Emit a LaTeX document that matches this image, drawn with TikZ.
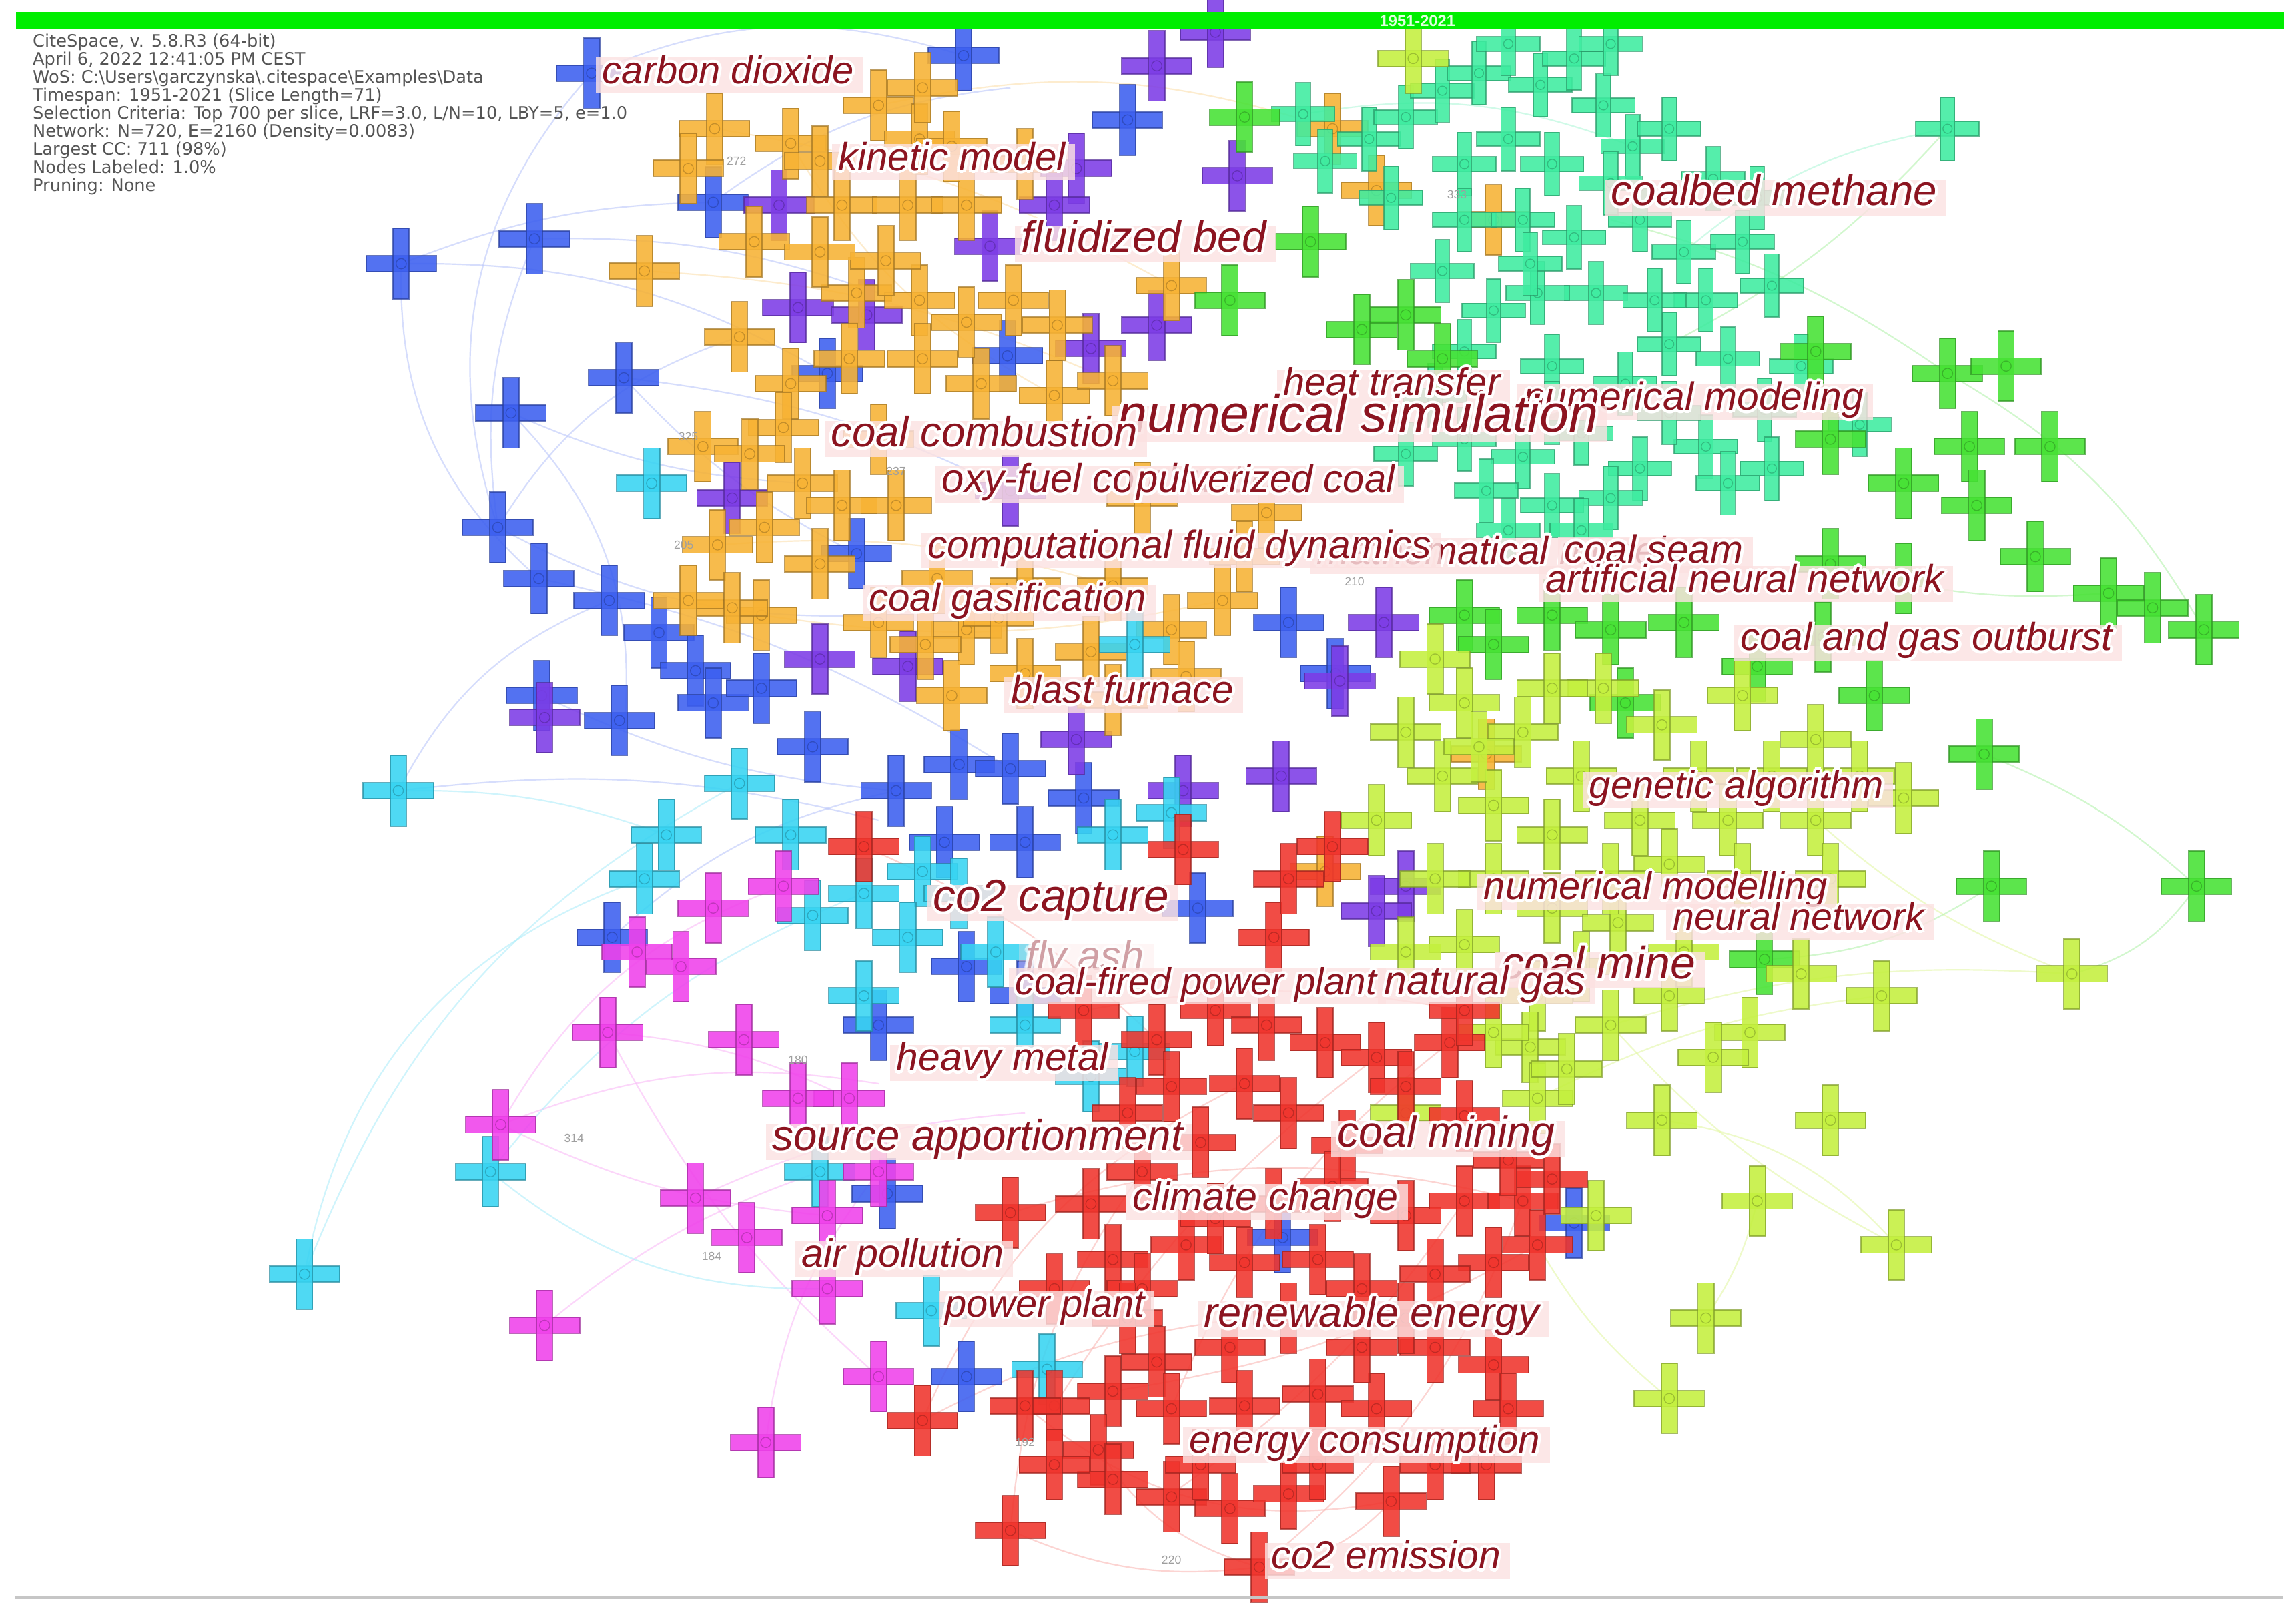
\documentclass[tikz,border=0pt]{standalone}
\usepackage{fontspec}
\usetikzlibrary{calc}
\newfontfamily\labfont{Liberation Sans}
\newfontfamily\hdrfont{DejaVu Sans}
\definecolor{cB}{RGB}{60,95,240}
\definecolor{cP}{RGB}{125,60,230}
\definecolor{cO}{RGB}{247,178,52}
\definecolor{cC}{RGB}{55,212,242}
\definecolor{cM}{RGB}{240,65,235}
\definecolor{cR}{RGB}{240,52,44}
\definecolor{cY}{RGB}{196,240,62}
\definecolor{cG}{RGB}{70,226,52}
\definecolor{cT}{RGB}{62,236,160}
\definecolor{topgreen}{RGB}{0,238,0}
\definecolor{labred}{RGB}{140,20,32}
\definecolor{labpink}{RGB}{252,226,226}
\definecolor{hdrgray}{RGB}{85,85,85}
\newcommand\pl[4][1]{\begin{scope}[shift={(#2,#3)},scale=#1]
 \filldraw[fill=#4,draw=#4!65!black,fill opacity=.88,draw opacity=.7,line width=.4pt] (-24,-5.5) rectangle (24,5.5);
 \filldraw[fill=#4,draw=#4!65!black,fill opacity=.88,draw opacity=.7,line width=.4pt] (-5.5,-24) rectangle (5.5,24);
 \draw[#4!55!black,opacity=.45,line width=.3pt] (0,0) circle (3.5);
\end{scope}}
\newcommand\lab[5][1]{%
 \begin{scope}[opacity=#1]
 \node[ltx,text opacity=0,font=\labfont\itshape\fontsize{#4pt}{#4pt}\selectfont] (L) at (#2,#3) {#5};
 \fill[labpink,opacity=.82*#1] ([xshift=-2pt,yshift=-1.2pt]L.south west) rectangle ([xshift=3pt,yshift=1.5pt]L.north east);
 \foreach \a in {0,30,...,330}{\node[ltx,text=white,font=\labfont\itshape\fontsize{#4pt}{#4pt}\selectfont] (H) at ($(#2,#3)+(\a:1pt)$) {#5};}
 \node[ltx,text=labred,font=\labfont\itshape\fontsize{#4pt}{#4pt}\selectfont] (T) at (#2,#3) {#5};
 \end{scope}}
\tikzset{
 ltx/.style={anchor=west,inner sep=0pt,text height=.72em,text depth=.2em},
 num/.style={text=gray!75,font=\labfont\fontsize{4pt}{4pt}\selectfont,inner sep=0pt},
 eB/.style={draw=cB!35,line width=.5pt,opacity=.6},
 eM/.style={draw=cM!35,line width=.5pt,opacity=.6},
 eC/.style={draw=cC!40,line width=.5pt,opacity=.6},
 eR/.style={draw=cR!35,line width=.5pt,opacity=.6},
 eY/.style={draw=cY!45,line width=.5pt,opacity=.6},
 eG/.style={draw=cG!40,line width=.5pt,opacity=.6},
 eO/.style={draw=cO!40,line width=.5pt,opacity=.6},
 eT/.style={draw=cT!40,line width=.5pt,opacity=.6},
}
\begin{document}
\begin{tikzpicture}[x=0.5pt,y=-0.5pt]
\useasboundingbox (0,0) rectangle (1568,1104);
\fill[white] (0,0) rectangle (1568,1104);
% edges
\draw[eB] (274,180) to[bend left=15] (565,255);
\draw[eB] (274,180) to[bend left=10] (487,138);
\draw[eB] (365,163) to[bend left=10] (600,200);
\draw[eB] (349,282) to[bend right=10] (548,330);
\draw[eB] (340,360) to[bend left=20] (505,230);
\draw[eB] (426,258) to[bend left=10] (700,340);
\draw[eB] (404,50) to[bend right=30] (340,360);
\draw[eB] (487,138) to[bend left=15] (690,60);
\draw[eB] (370,475) to[bend right=10] (612,540);
\draw[eB] (416,410) to[bend right=20] (272,540);
\draw[eB] (272,540) to[bend left=10] (600,560);
\draw[eB] (404,50) to[bend left=20] (658,38);
\draw[eB] (349,282) to[bend left=25] (426,500);
\draw[eB] (365,163) to[bend right=15] (340,360);
\draw[eB] (426,258) to[bend right=10] (585,378);
\draw[eB] (340,360) to[bend right=15] (600,420);
\draw[eB] (368,395) to[bend left=10] (690,525);
\draw[eB] (274,180) to[bend right=25] (368,395);
\draw[eB] (418,640) to[bend left=15] (612,540);
\draw[eO] (440,185) to[bend left=10] (760,260);
\draw[eO] (488,88) to[bend left=10] (800,195);
\draw[eO] (520,420) to[bend right=10] (835,410);
\draw[eO] (540,98) to[bend right=15] (720,270);
\draw[eO] (600,72) to[bend left=15] (910,88);
\draw[eO] (490,372) to[bend left=10] (760,400);
\draw[eM] (342,768) to[bend left=15] (600,740);
\draw[eM] (342,768) to[bend right=10] (565,830);
\draw[eM] (415,705) to[bend left=10] (580,750);
\draw[eM] (372,905) to[bend left=10] (560,800);
\draw[eM] (342,768) to[bend left=20] (535,605);
\draw[eM] (523,985) to[bend left=15] (600,800);
\draw[eM] (475,818) to[bend left=10] (700,760);
\draw[eM] (415,705) to[bend right=10] (600,940);
\draw[eC] (208,870) to[bend left=30] (440,600);
\draw[eC] (208,870) to[bend left=20] (505,535);
\draw[eC] (335,800) to[bend right=20] (565,880);
\draw[eC] (272,540) to[bend left=10] (455,570);
\draw[eC] (335,800) to[bend left=15] (590,610);
\draw[eR] (690,1045) to[bend right=15] (860,1070);
\draw[eR] (630,970) to[bend left=10] (850,900);
\draw[eR] (800,1020) to[bend right=10] (1000,820);
\draw[eR] (750,990) to[bend right=20] (860,1070);
\draw[eR] (950,1025) to[bend left=20] (860,1070);
\draw[eR] (720,960) to[bend left=10] (940,722);
\draw[eR] (590,578) to[bend left=10] (790,710);
\draw[eR] (690,828) to[bend left=15] (1040,820);
\draw[eR] (690,1045) to[bend left=15] (780,800);
\draw[eR] (860,1070) to[bend right=15] (1040,820);
\draw[eR] (630,970) to[bend left=20] (850,740);
\draw[eR] (740,690) to[bend left=10] (1000,690);
\draw[eR] (760,950) to[bend right=10] (1050,850);
\draw[eR] (800,962) to[bend left=15] (990,712);
\draw[eR] (700,960) to[bend right=25] (950,1025);
\draw[eY] (1295,850) to[bend left=10] (1100,700);
\draw[eY] (1165,900) to[bend right=10] (1200,820);
\draw[eY] (1415,665) to[bend left=10] (1240,560);
\draw[eY] (1140,955) to[bend left=10] (1050,850);
\draw[eY] (1295,850) to[bend right=20] (1135,765);
\draw[eY] (1415,665) to[bend right=10] (1100,700);
\draw[eY] (1285,680) to[bend right=10] (1050,750);
\draw[eG] (1500,605) to[bend right=10] (1355,515);
\draw[eG] (1505,430) to[bend right=15] (1330,255);
\draw[eG] (1330,255) to[bend right=10] (1100,150);
\draw[eG] (1500,605) to[bend left=20] (1415,665);
\draw[eG] (1440,405) to[bend left=10] (1250,385);
\draw[eG] (1330,88) to[bend left=10] (1140,235);
\draw[eG] (1360,605) to[bend left=15] (1205,655);
\draw[eT] (1330,88) to[bend right=15] (1150,172);
\draw[eT] (890,78) to[bend left=15] (1115,100);
\draw[eT] (1000,300) to[bend left=10] (1205,280);
% nodes
\foreach \x/\y in {404/50, 658/38, 770/82, 487/138, 274/180, 365/163, 426/258, 349/282, 565/255, 688/243, 340/360, 368/395, 416/410, 450/432, 475/458, 487/480, 370/475, 423/492, 585/378, 612/540, 655/522, 690/525, 645/575, 700/575, 740/545, 418/640, 818/620, 660/660, 606/815, 660/940, 880/425, 912/460, 1075/835, 876/845, 600/700, 700/680, 520/470, 555/510}{\pl{\x}{\y}{cB}}
\foreach \x/\y in {532/140, 790/45, 830/22, 735/115, 845/120, 676/168, 545/210, 592/215, 745/238, 790/222, 500/340, 560/450, 372/490, 735/505, 808/540, 875/530, 945/425, 915/465, 960/605, 940/622, 690/335, 620/455, 720/140}{\pl{\x}{\y}{cP}}
\foreach \x/\y in {488/88, 540/98, 600/72, 628/95, 575/140, 620/140, 660/140, 440/185, 505/230, 540/262, 535/292, 548/330, 585/200, 628/205, 630/245, 670/262, 720/270, 760/260, 800/195, 910/88, 940/130, 490/372, 520/420, 575/345, 612/345, 640/395, 660/430, 700/460, 745/445, 800/430, 835/410, 1020/150, 1015/515, 905/595, 605/178, 660/220, 580/245, 700/400, 760/400, 600/300, 500/415, 850/380, 780/340, 470/115, 515/165, 560/172, 650/100, 700/112, 692/205, 722/222, 480/305, 512/310, 522/360, 560/385, 600/425, 632/440, 682/422, 650/475, 760/478, 810/462, 470/410, 560/110, 630/60, 865/350}{\pl{\x}{\y}{cO}}
\foreach \x/\y in {890/78, 905/110, 935/95, 960/80, 985/62, 1010/50, 1030/30, 1052/58, 1075/40, 1095/72, 1030/95, 1060/112, 1000/112, 1115/100, 1140/88, 1330/88, 1000/150, 1040/150, 1075/162, 1120/150, 1150/172, 1190/165, 1210/195, 1165/205, 1140/235, 1180/245, 1090/200, 1050/200, 1020/212, 1110/262, 1060/250, 1000/300, 1040/312, 1080/296, 1120/320, 1165/305, 1205/280, 1100/340, 1060/345, 1015/335, 980/270, 1270/290, 950/135, 985/185, 1170/122, 1200/135, 1100/125, 1130/205, 1060/282, 1140/282, 1180/330, 1030/362, 1080/362, 1210/320, 1230/250, 1000/240, 1045/180, 1100/30, 960/310}{\pl[0.9]{\x}{\y}{cT}}
\foreach \x/\y in {850/80, 840/205, 895/165, 930/225, 960/215, 985/245, 1240/240, 1330/255, 1370/250, 1345/305, 1400/305, 1350/345, 1390/380, 1440/405, 1470/415, 1505/430, 1355/515, 1280/475, 1245/435, 1200/455, 1150/425, 1110/480, 1205/655, 1360/605, 1500/605, 1300/395, 1250/385, 1000/420, 1060/420, 1250/300, 1100/430, 1020/440, 1300/330}{\pl{\x}{\y}{cG}}
\foreach \x/\y in {965/40, 1000/480, 1040/500, 960/500, 985/530, 1020/550, 1060/570, 1020/600, 1060/620, 1105/630, 1140/590, 1180/560, 1190/600, 1240/560, 1300/545, 1240/505, 1190/475, 1135/495, 1095/470, 1060/470, 1050/680, 1100/700, 1140/680, 1195/705, 1230/665, 1285/680, 1415/665, 1135/765, 1200/820, 1250/765, 1295/850, 1165/900, 1140/955, 1090/830, 1045/715, 960/760, 1050/750, 940/560, 980/450, 1010/510, 1080/530, 1120/560, 1160/530, 1210/530, 1270/530, 1250/600, 1100/600, 980/600, 1000/645, 1080/660, 1150/650, 1020/705, 1070/730, 1170/722, 960/650}{\pl{\x}{\y}{cY}}
\foreach \x/\y in {445/330, 272/540, 208/870, 335/800, 505/535, 455/570, 440/600, 555/625, 590/610, 630/595, 620/640, 680/650, 700/700, 745/735, 775/718, 560/800, 715/935, 636/895, 800/555, 775/440, 590/680, 760/570, 540/570, 655/610}{\pl{\x}{\y}{cC}}
\foreach \x/\y in {342/768, 415/705, 372/905, 523/985, 600/940, 465/660, 487/620, 535/605, 508/710, 475/818, 510/845, 565/880, 435/650, 580/750, 600/800, 565/830, 545/750}{\pl{\x}{\y}{cM}}
\foreach \x/\y in {590/578, 808/580, 870/640, 910/578, 880/600, 740/690, 790/710, 830/690, 865/700, 905/712, 940/722, 990/712, 1000/690, 850/740, 880/760, 920/782, 820/780, 780/800, 745/822, 690/828, 760/860, 720/880, 810/850, 850/862, 900/860, 960/830, 1000/820, 1040/820, 1050/850, 1020/862, 980/870, 930/880, 880/900, 840/920, 790/930, 760/950, 720/960, 800/962, 850/960, 900/952, 940/962, 700/960, 630/970, 750/990, 800/1022, 840/1030, 880/1020, 950/1025, 1015/1000, 690/1045, 860/1070, 770/760, 800/742, 960/742, 1000/762, 1030/792, 1060/805, 870/822, 910/810, 830/832, 780/880, 930/920, 980/920, 1020/932, 1030/962, 760/1010, 720/1000, 820/1000, 900/1000, 980/1000, 770/900, 960/900}{\pl{\x}{\y}{cR}}
% small numbers
\node[num] (n1) at (470,298) {325};
\node[num] (n2) at (467,372) {205};
\node[num] (n3) at (612,322) {237};
\node[num] (n4) at (545,724) {180};
\node[num] (n5) at (392,777) {314};
\node[num] (n6) at (486,858) {184};
\node[num] (n7) at (700,985) {192};
\node[num] (n8) at (800,1065) {220};
\node[num] (n9) at (925,397) {210};
\node[num] (n10) at (995,133) {333};
\node[num] (n11) at (503,110) {272};
% labels
\lab{411}{52}{13.2}{carbon dioxide}
\lab{572}{111}{13.3}{kinetic model}
\lab{697}{167}{14.9}{fluidized bed}
\lab{1100}{135}{14.5}{coalbed methane}
\lab{876}{265}{13.2}{heat transfer}
\lab{1040}{275}{13.4}{numerical modeling}
\lab{763}{290}{18}{numerical simulation}
\lab{567}{300}{14.5}{coal combustion}
\lab{643}{331}{13.6}{oxy-fuel combustion}
\lab{776}{331}{13.2}{pulverized coal}
\lab{899}{380}{13.3}{mathematical model}
\lab{633}{376}{13.4}{computational fluid dynamics}
\lab{1068}{379}{13.4}{coal seam}
\lab{1055}{399}{13.3}{artificial neural network}
\lab{593}{412}{13.3}{coal gasification}
\lab{1188}{439}{13.3}{coal and gas outburst}
\lab{690}{475}{13.3}{blast furnace}
\lab{1085}{540}{13.2}{genetic algorithm}
\lab{1013}{609}{13.2}{numerical modelling}
\lab{1142}{630}{13.1}{neural network}
\lab{637}{617}{15.4}{co2 capture}
\lab[0.4]{700}{657}{14}{fly ash}
\lab{1025}{663}{15.5}{coal mine}
\lab{693}{674}{12.9}{coal-fired power plant}
\lab{945}{674}{13.9}{natural gas}
\lab{612}{726}{13.4}{heavy metal}
\lab{527}{780}{14.5}{source apportionment}
\lab{913}{778}{14.7}{coal mining}
\lab{773}{821}{13.5}{climate change}
\lab{547}{860}{13.5}{air pollution}
\lab{645}{894}{13.2}{power plant}
\lab{822}{901}{14.4}{renewable energy}
\lab{812}{987}{13.3}{energy consumption}
\lab{868}{1066}{13.4}{co2 emission}
% header
\fill[topgreen] (11,8) rectangle (1560,20);
\node[text=green!12,font=\labfont\bfseries\fontsize{5.4pt}{5.4pt}\selectfont,inner sep=0pt] (yr) at (968,14.5) {1951-2021};
\node[anchor=north west,inner sep=0pt,align=left,text=hdrgray,font=\hdrfont\fontsize{5.85pt}{6.15pt}\selectfont] (hdr) at (22,23) {CiteSpace, v. 5.8.R3 (64-bit)\\
April 6, 2022 12:41:05 PM CEST\\
WoS: C:\textbackslash Users\textbackslash garczynska\textbackslash .citespace\textbackslash Examples\textbackslash Data\\
Timespan: 1951-2021 (Slice Length=71)\\
Selection Criteria: Top 700 per slice, LRF=3.0, L/N=10, LBY=5, e=1.0\\
Network: N=720, E=2160 (Density=0.0083)\\
Largest CC: 711 (98\%)\\
Nodes Labeled: 1.0\%\\
Pruning: None};
\draw[gray!45,line width=1pt] (10,1091) -- (1559,1091);
\end{tikzpicture}
\end{document}
